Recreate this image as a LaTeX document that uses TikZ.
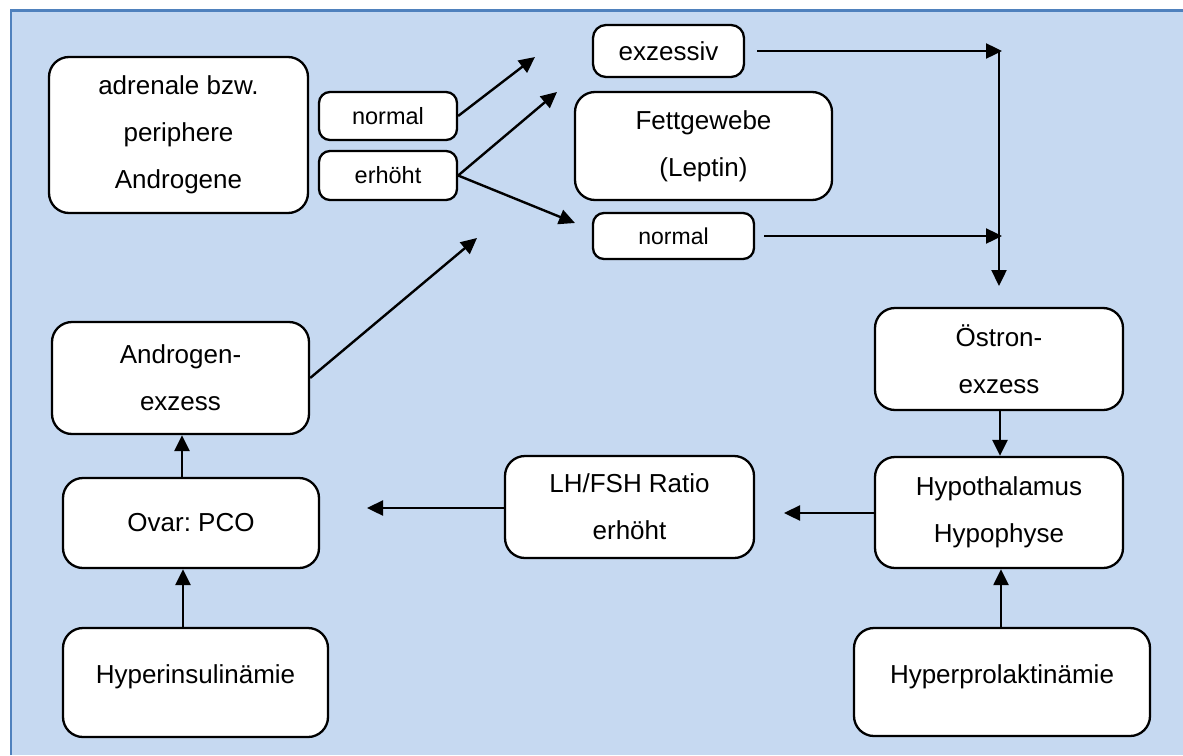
\documentclass[tikz,border=0pt]{standalone}
\usepackage{fontspec}
\setmainfont{Liberation Sans}
\usetikzlibrary{arrows.meta}
\definecolor{bgblue}{HTML}{C6D9F1}
\definecolor{frameblue}{HTML}{4F81BD}
\frenchspacing
\tikzset{
  box/.style={draw=black, line width=2.3pt, fill=white, rounded corners=20pt, inner sep=0pt, align=center,
    font=\fontsize{26}{47}\selectfont},
  smallbox/.style={box, rounded corners=11pt, font=\fontsize{23.5}{40}\selectfont},
  arr/.style={line width=2.4pt, -{Triangle[length=16pt,width=15pt]}},
  plain/.style={line width=2.4pt}
}
\begin{document}
\begin{tikzpicture}[x=1pt, y={(0pt,-1pt)}]
\useasboundingbox (0,0) rectangle (1183,755);
% background panel
\fill[bgblue] (10,10) rectangle (1183,755);
\draw[frameblue, line width=2.5pt] (11,755) -- (11,10.5) -- (1183,10.5);

% nodes
\node[box, minimum width=259pt, minimum height=156pt] (adr) at (178.5,135) {adrenale bzw.\\periphere\\Androgene};
\node[smallbox, minimum width=138pt, minimum height=48pt] (n1) at (388,116) {normal};
\node[smallbox, minimum width=138pt, minimum height=49pt] (er) at (388,175.5) {erhöht};
\node[smallbox, rounded corners=13pt, minimum width=151pt, minimum height=52pt, font=\fontsize{26}{47}\selectfont] (ex) at (668.5,51) {exzessiv};
\node[box, minimum width=257pt, minimum height=108pt] (fett) at (703.5,146) {Fettgewebe\\(Leptin)};
\node[smallbox, minimum width=161pt, minimum height=46pt, font=\fontsize{23}{40}\selectfont] (n2) at (673.5,236) {normal};
\node[box, minimum width=248pt, minimum height=102pt] (oes) at (999,359) {Östron-\\exzess};
\node[box, minimum width=248pt, minimum height=111pt] (hyp) at (999,512.5) {Hypothalamus\\Hypophyse};
\node[box, minimum width=296pt, minimum height=108pt] (prl) at (1002,682) {};
\node[font=\fontsize{26}{47}\selectfont] (prlt) at (1002,677) {Hyperprolaktinämie};
\node[box, minimum width=249pt, minimum height=102pt] (lh) at (629.5,507) {LH/FSH Ratio\\erhöht};
\node[box, minimum width=257pt, minimum height=112pt] (andr) at (180.5,378) {Androgen-\\exzess};
\node[box, minimum width=256pt, minimum height=90pt] (ovar) at (191,523) {Ovar: PCO};
\node[box, minimum width=265pt, minimum height=109pt] (ins) at (195.5,682.5) {};
\node[font=\fontsize{26}{47}\selectfont] (inst) at (195.5,677) {Hyperinsulinämie};

% free ends and helper coordinates
\coordinate (t1) at (535,57);
\coordinate (t2) at (557,92);
\coordinate (t3) at (575,223);
\coordinate (t4) at (477,238);
\coordinate (s1) at (757,51);
\coordinate (j1) at (1002,51);
\coordinate (s2) at (764,236);
\coordinate (j2) at (1002,236);
\coordinate (vt) at (999,50);
\coordinate (vb) at (999,286);
\coordinate (t5) at (784,513);
\coordinate (t6) at (367,508);
\coordinate (xr) at (1000,0);
\coordinate (xr2) at (1001,0);
\coordinate (xl) at (182,0);
\coordinate (xl2) at (183,0);
\coordinate (yh) at (0,513);
\coordinate (yl) at (0,508);

% connectors
\draw[arr] (n1.east) -- (t1);
\draw[arr] (er.east) -- (t2);
\draw[arr] (er.east) -- (t3);
\draw[arr] (andr.east) -- (t4);
\draw[arr] (s1) -- (j1);
\draw[arr] (s2) -- (j2);
\draw[arr] (vt) -- (vb);
\draw[arr] (oes.south -| xr) -- (hyp.north -| xr);
\draw[arr] (prl.north -| xr2) -- (hyp.south -| xr2);
\draw[arr] (hyp.west |- yh) -- (t5);
\draw[arr] (lh.west |- yl) -- (t6);
\draw[arr] (ovar.north -| xl) -- (andr.south -| xl);
\draw[arr] (ins.north -| xl2) -- (ovar.south -| xl2);
\end{tikzpicture}
\end{document}
